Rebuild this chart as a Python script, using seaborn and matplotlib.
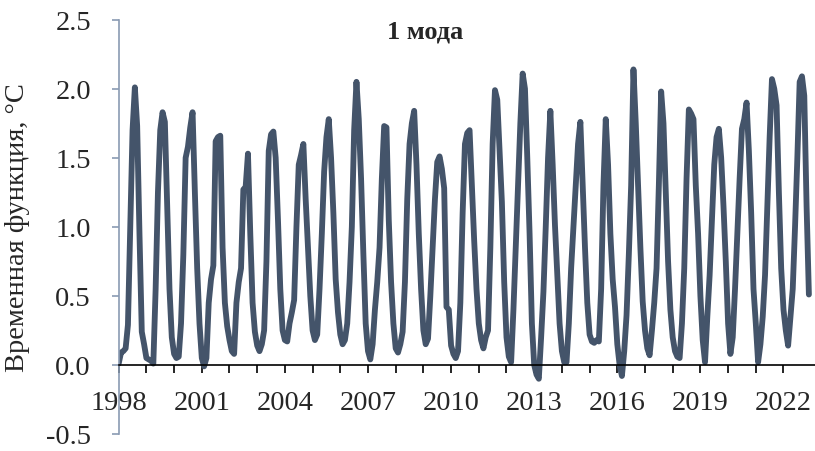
import numpy as np
import pandas as pd
import matplotlib
matplotlib.use("Agg")
import matplotlib.pyplot as plt
import seaborn as sns

# Monthly values of the first mode time function, Jan..Dec for each year
y1998 = [0.01, 0.09, 0.10, 0.12, 0.29, 1.00, 1.70, 2.01, 1.73, 0.95, 0.24, 0.15]
y1999 = [0.05, 0.04, 0.03, 0.01, 0.55, 1.25, 1.70, 1.83, 1.76, 1.15, 0.55, 0.20]
y2000 = [0.08, 0.05, 0.06, 0.30, 0.80, 1.50, 1.58, 1.72, 1.83, 1.25, 0.70, 0.30]
y2001 = [0.05, -0.01, 0.05, 0.45, 0.62, 0.72, 1.62, 1.65, 1.66, 0.85, 0.45, 0.28]
y2002 = [0.18, 0.10, 0.08, 0.45, 0.60, 0.70, 1.27, 1.29, 1.53, 0.95, 0.45, 0.24]
y2003 = [0.14, 0.10, 0.15, 0.25, 0.75, 1.55, 1.67, 1.69, 1.50, 1.05, 0.55, 0.25]
y2004 = [0.18, 0.17, 0.30, 0.38, 0.47, 1.00, 1.45, 1.52, 1.60, 1.20, 0.85, 0.50]
y2005 = [0.25, 0.18, 0.22, 0.55, 0.95, 1.40, 1.65, 1.78, 1.50, 1.10, 0.62, 0.38]
y2006 = [0.22, 0.15, 0.18, 0.30, 0.60, 1.00, 1.70, 2.05, 1.78, 1.35, 0.80, 0.30]
y2007 = [0.10, 0.04, 0.15, 0.40, 0.60, 0.85, 1.35, 1.73, 1.72, 1.05, 0.60, 0.30]
y2008 = [0.12, 0.09, 0.15, 0.24, 0.60, 1.20, 1.60, 1.75, 1.84, 1.45, 0.95, 0.55]
y2009 = [0.25, 0.15, 0.19, 0.50, 0.85, 1.20, 1.47, 1.51, 1.42, 1.28, 0.42, 0.40]
y2010 = [0.14, 0.08, 0.05, 0.10, 0.45, 1.10, 1.60, 1.68, 1.70, 1.30, 0.90, 0.55]
y2011 = [0.30, 0.18, 0.12, 0.20, 0.25, 0.85, 1.60, 1.99, 1.92, 1.55, 1.18, 0.60]
y2012 = [0.20, 0.06, 0.02, 0.40, 0.85, 1.30, 1.75, 2.11, 2.00, 1.50, 0.95, 0.30]
y2013 = [0.00, -0.07, -0.10, 0.20, 0.53, 1.00, 1.50, 1.84, 1.45, 1.01, 0.65, 0.30]
y2014 = [0.10, 0.02, 0.02, 0.30, 0.70, 1.00, 1.30, 1.60, 1.76, 1.30, 0.85, 0.45]
y2015 = [0.22, 0.17, 0.16, 0.18, 0.17, 0.55, 1.30, 1.78, 1.45, 0.95, 0.62, 0.42]
y2016 = [0.15, 0.00, -0.08, 0.10, 0.36, 0.80, 1.30, 2.14, 1.75, 1.30, 0.85, 0.46]
y2017 = [0.25, 0.12, 0.07, 0.25, 0.45, 0.70, 1.30, 1.98, 1.75, 1.25, 0.75, 0.40]
y2018 = [0.20, 0.10, 0.06, 0.05, 0.30, 0.70, 1.35, 1.85, 1.82, 1.78, 1.30, 0.95]
y2019 = [0.50, 0.18, 0.02, 0.35, 0.65, 1.05, 1.45, 1.65, 1.71, 1.50, 1.15, 0.75]
y2020 = [0.30, 0.08, 0.20, 0.55, 0.95, 1.35, 1.71, 1.78, 1.90, 1.55, 1.10, 0.55]
y2021 = [0.30, 0.02, 0.15, 0.35, 0.65, 1.15, 1.65, 2.07, 2.00, 1.88, 1.25, 0.70]
y2022 = [0.40, 0.25, 0.14, 0.35, 0.55, 1.00, 1.50, 2.05, 2.09, 1.95, 1.15, 0.51]

years = list(range(1998, 2023))
yearly = [y1998, y1999, y2000, y2001, y2002, y2003, y2004, y2005, y2006,
          y2007, y2008, y2009, y2010, y2011, y2012, y2013, y2014, y2015,
          y2016, y2017, y2018, y2019, y2020, y2021, y2022]
tick_years = list(range(1998, 2023))
label_years = list(range(1998, 2023, 3))
y_ticks = [-0.5, 0.0, 0.5, 1.0, 1.5, 2.0, 2.5]

title = "1 мода"
ylabel = "Временная функция, °C"

t = []
v = []
for yr, vals in zip(years, yearly):
    for m, val in enumerate(vals):
        t.append(yr + m / 12.0)
        v.append(val)
df = pd.DataFrame({"t": t, "v": v})

sns.set_style("white")
plt.rcParams["font.family"] = ["Liberation Serif", "DejaVu Serif"]

W, H = 815, 452
fig = plt.figure(figsize=(W / 100, H / 100), dpi=100)
x0, x1 = 118.7, 815.0
ytop, ybot = 20.7, 435.0
ax = fig.add_axes([x0 / W, (H - ybot) / H, (x1 - x0) / W, (ybot - ytop) / H])

line_color = "#44546A"
sns.lineplot(data=df, x="t", y="v", ax=ax, color=line_color, linewidth=4.2,
             solid_joinstyle="round", solid_capstyle="round")

ax.set_xlim(1998, 1998 + (x1 - x0) / 27.7)
ax.set_ylim(-0.5, 2.5)

for s in ["top", "right"]:
    ax.spines[s].set_visible(False)
ax.spines["bottom"].set_position(("data", 0))
ax.spines["bottom"].set_color("black")
ax.spines["bottom"].set_linewidth(1.2)
ax.spines["left"].set_color("#8A9BB3")
ax.spines["left"].set_linewidth(1.2)

ax.set_xticks(tick_years)
ax.set_xticklabels([str(y) if y in label_years else "" for y in tick_years])
ax.set_yticks(y_ticks)
ax.set_yticklabels([f"{y:.1f}" for y in y_ticks])

ax.tick_params(axis="x", direction="out", length=6, width=1.2, color="black",
               labelsize=20.5, pad=12, bottom=True)
ax.tick_params(axis="y", direction="out", length=5, width=1.2, color="#8A9BB3",
               labelsize=20.5, pad=15, left=True)

ax.set_xlabel("")
ax.set_ylabel(ylabel, fontsize=20.5)
ax.yaxis.set_label_coords(-0.127, 0.5)

ax.text(0.44, 0.972, title, transform=ax.transAxes, ha="center", va="center",
        fontsize=19, fontweight="bold")

fig.savefig("out.png", dpi=100)
